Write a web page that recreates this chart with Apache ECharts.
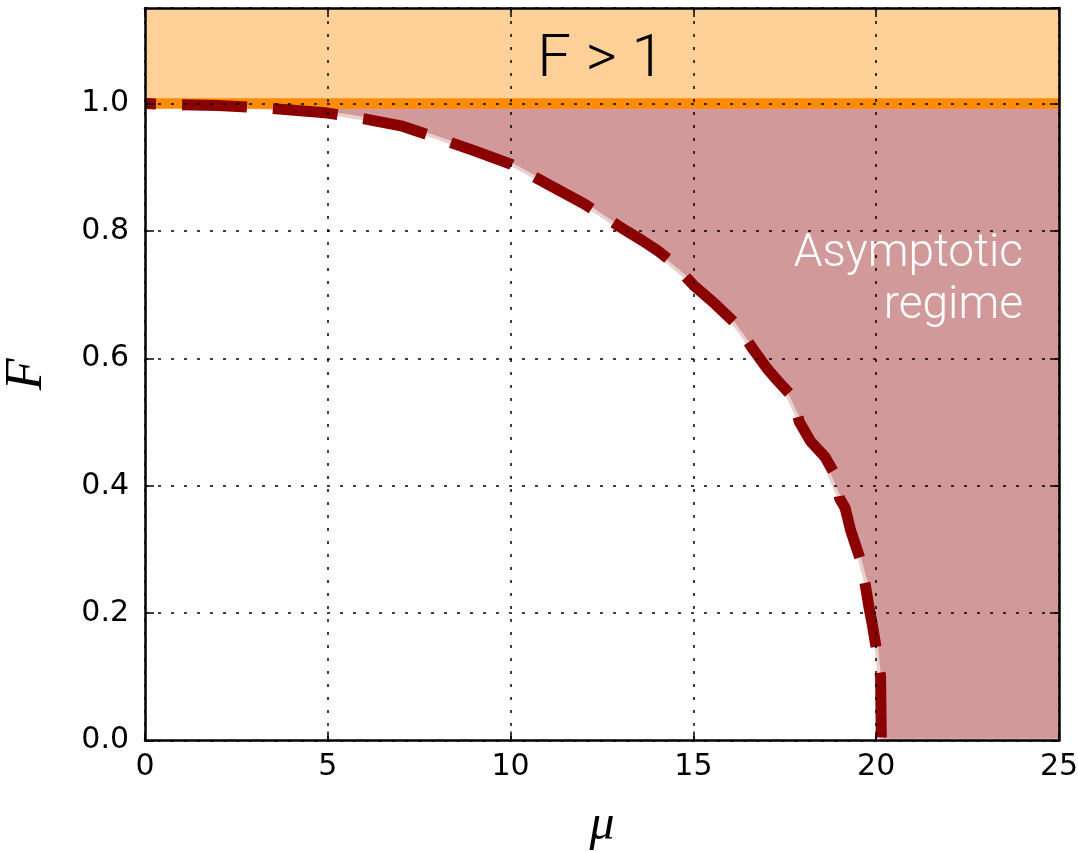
<!DOCTYPE html>
<html>
<head>
<meta charset="utf-8">
<script src="https://cdn.jsdelivr.net/npm/echarts@6/dist/echarts.min.js"></script>
<style>html,body{margin:0;padding:0;background:#fff}#c{width:1078px;height:851px}</style>
</head>
<body>
<div id="c"></div>
<script>
// Smooth boundary of the asymptotic regime (mu, F)
const boundary = [[0,1.0],[1,0.998],[2,0.997],[3,0.994],[4,0.99],[5,0.985],[6,0.976],[7,0.965],[8,0.946],[9,0.926],[10,0.905],[11,0.874],[12,0.843],[13,0.804],[14,0.765],[15,0.717],[16,0.662],[16.6,0.615],[17,0.59],[17.5,0.55],[18,0.49],[18.5,0.445],[19,0.38],[19.5,0.295],[19.8,0.23],[20.0,0.15],[20.1,0.09],[20.14,0.0],[25,0.0]];
// Measured (dashed) curve (mu, F)
const measured = [[0,1.0],[1,0.998],[2,0.997],[3,0.994],[4,0.99],[5,0.985],[6,0.976],[7,0.965],[8,0.946],[9,0.926],[10,0.905],[11,0.874],[12,0.843],[13,0.806],[13.6,0.785],[14,0.770],[14.4,0.752],[15,0.715],[15.6,0.685],[16.2,0.652],[16.6,0.617],[17.0,0.585],[17.3,0.565],[17.7,0.540],[17.9,0.500],[18.2,0.470],[18.6,0.445],[18.9,0.415],[19.0,0.380],[19.15,0.365],[19.3,0.33],[19.55,0.287],[19.7,0.245],[19.8,0.21],[19.9,0.18],[20.0,0.145],[20.12,0.10],[20.14,0.0]];
// F = 1 limit
const limit = [[0,1.0],[25,1.0]];
const xTicks = [0,5,10,15,20,25];
const yTicks = [0.0,0.2,0.4,0.6,0.8,1.0];

const chart = echarts.init(document.getElementById('c'));
const tickFont = {fontFamily:'DejaVu Sans', fontSize:30, color:'#000'};
const axisCommon = {
  type:'value', z:10,
  axisLine:{show:true, onZero:false, lineStyle:{color:'#000', width:2.5}},
  axisTick:{show:true, inside:true, length:9, lineStyle:{color:'#000', width:1.5}},
};
const grid = {left:145, right:19, top:8, bottom:110.5, outerBoundsMode:'none', containLabel:false};
chart.setOption({
  animation:false,
  grid,
  xAxis:[
    Object.assign({}, axisCommon, {
      min:0, max:25, interval:5, position:'bottom',
      name:'μ', nameLocation:'middle', nameGap:60,
      nameTextStyle:{fontFamily:'Liberation Serif', fontStyle:'italic', fontSize:50, color:'#000'},
      axisLabel:Object.assign({margin:12, formatter:v=>xTicks.includes(v)?String(v):''}, tickFont),
      splitLine:{show:true, lineStyle:{color:'#000', width:1.5, type:[3,10]}}
    }),
    Object.assign({}, axisCommon, {
      min:0, max:25, interval:5, position:'top',
      axisLabel:{show:false}, splitLine:{show:false}
    })
  ],
  yAxis:[
    Object.assign({}, axisCommon, {
      min:0, max:1.15, interval:0.2, position:'left',
      name:'F', nameLocation:'middle', nameGap:92, nameRotate:90,
      nameTextStyle:{fontFamily:'Liberation Serif', fontStyle:'italic', fontSize:52, color:'#000'},
      axisLabel:Object.assign({margin:16, showMaxLabel:false, formatter:v=>v>1.05?'':v.toFixed(1)}, tickFont),
      splitLine:{show:true, lineStyle:{color:'#000', width:1.5, type:[3,10]}}
    }),
    Object.assign({}, axisCommon, {
      min:0, max:1.15, interval:0.2, position:'right',
      axisLabel:{show:false}, splitLine:{show:false}
    })
  ],
  series:[
    {
      type:'line', data:boundary, showSymbol:false, symbol:'none', z:1,
      lineStyle:{color:'#eacfcf', width:3.5},
      areaStyle:{origin:'end', color:'rgba(139,0,0,0.4)', opacity:1}
    },
    {
      type:'line', data:limit, showSymbol:false, symbol:'none', z:2,
      lineStyle:{color:'#FF8C00', width:10.5},
      areaStyle:{origin:'end', color:'#FFD199', opacity:1}
    },
    {
      type:'line', data:measured, showSymbol:false, symbol:'none', z:3,
      lineStyle:{color:'#8B0000', width:11, type:[65,26], dashOffset:54, cap:'butt'}
    }
  ],
  graphic:[
    {type:'text', z:20, x:601, y:61,
     style:{text:'F > 1', fontFamily:'Roboto', fontWeight:300, fontSize:60, fill:'#000', align:'center', verticalAlign:'middle'}},
    {type:'text', z:20, x:1023, y:254,
     style:{text:'Asymptotic', fontFamily:'Roboto', fontWeight:300, fontSize:46, fill:'#fff', align:'right', verticalAlign:'middle'}},
    {type:'text', z:20, x:1023, y:306,
     style:{text:'regime', fontFamily:'Roboto', fontWeight:300, fontSize:46, fill:'#fff', align:'right', verticalAlign:'middle'}}
  ]
});
</script>
</body>
</html>
